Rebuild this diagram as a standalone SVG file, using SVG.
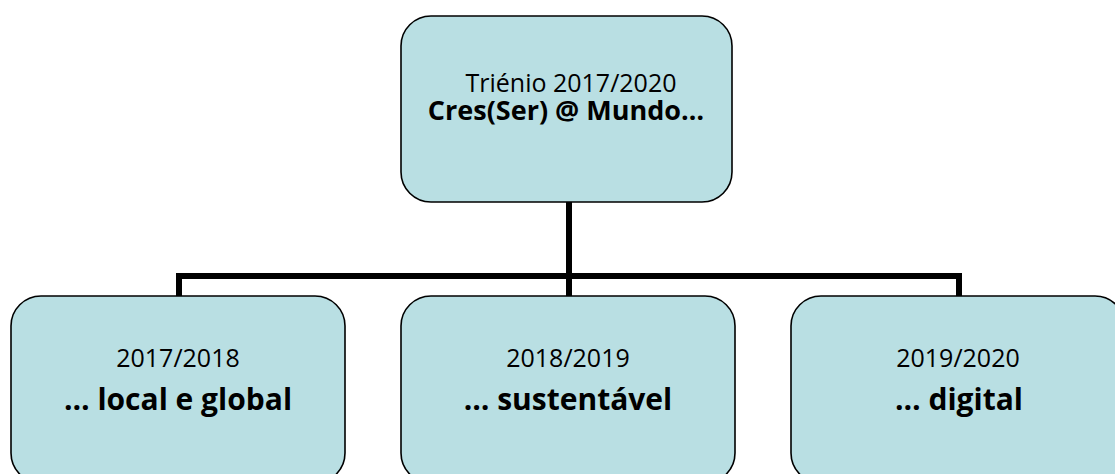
<svg xmlns="http://www.w3.org/2000/svg" width="1115" height="474" viewBox="0 0 1115 474">
<style>
.box{fill:#B9DFE3;stroke:#000;stroke-width:1.6}
.conn{fill:none;stroke:#000;stroke-width:6}
.reg{font-family:"Open Sans","Liberation Sans",sans-serif;font-size:25px;fill:#000;text-anchor:middle}
.b1{font-family:"Open Sans","Liberation Sans",sans-serif;font-size:27px;font-weight:bold;fill:#000;text-anchor:middle}
.b2{font-family:"Open Sans","Liberation Sans",sans-serif;font-size:30px;font-weight:bold;fill:#000;text-anchor:middle}
</style>
<rect width="1115" height="474" fill="#fff"/>
<g id="connectors">
<path class="conn" d="M569 202 V296"/>
<path class="conn" d="M179 296 V276 H959 V296"/>
</g>
<g id="top">
<rect class="box" x="401" y="16" width="331" height="186" rx="30" ry="30"/>
<text class="reg" x="571" y="92">Triénio 2017/2020</text>
<text class="b1" x="566" y="120">Cres(Ser) @ Mundo…</text>
</g>
<g id="y1">
<rect class="box" x="11" y="296" width="334" height="187" rx="30" ry="30"/>
<text class="reg" x="178" y="367">2017/2018</text>
<text class="b2" x="178" y="410">… local e global</text>
</g>
<g id="y2">
<rect class="box" x="401" y="296" width="334" height="187" rx="30" ry="30"/>
<text class="reg" x="568" y="367">2018/2019</text>
<text class="b2" x="568" y="410">… sustentável</text>
</g>
<g id="y3">
<rect class="box" x="791" y="296" width="334" height="187" rx="30" ry="30"/>
<text class="reg" x="958" y="367">2019/2020</text>
<text class="b2" x="959" y="410">… digital</text>
</g>
</svg>
